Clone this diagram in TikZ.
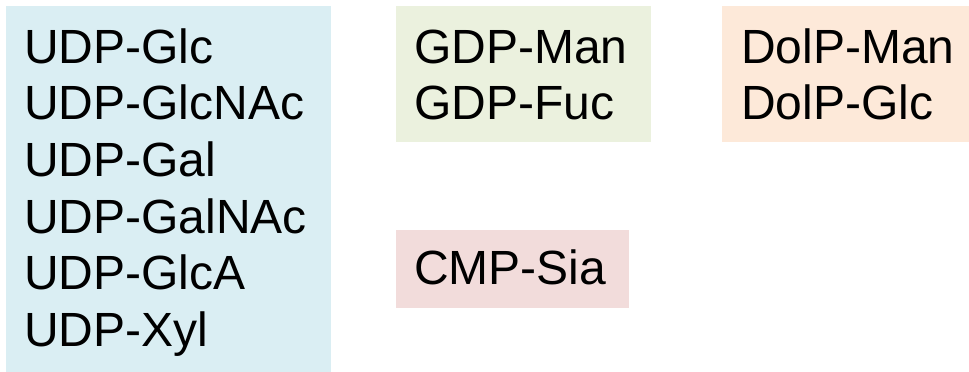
\documentclass[tikz,border=0pt]{standalone}
\usepackage{fontspec}
\setmainfont{Liberation Sans}
\definecolor{udpblue}{HTML}{DAEEF3}
\definecolor{gdpgreen}{HTML}{EBF1DE}
\definecolor{dolporange}{HTML}{FDE9D9}
\definecolor{cmppink}{HTML}{F2DCDB}
\tikzset{
  panel/.style={fill=#1, draw=none, inner sep=0pt, anchor=north west},
  sugar/.style={inner sep=0pt, anchor=base west, text=black,
                font=\fontsize{48}{56.7}\selectfont}
}
\begin{document}
\begin{tikzpicture}[x=1pt, y=-1pt]
  \useasboundingbox (0,0) rectangle (969,372);
  % coloured panels
  \node[panel=udpblue,    minimum width=325pt, minimum height=366pt] (udp)  at (6,6) {};
  \node[panel=gdpgreen,   minimum width=255pt, minimum height=135.7pt] (gdp)  at (396,6) {};
  \node[panel=dolporange, minimum width=247pt, minimum height=135.7pt] (dolp) at (722,6) {};
  \node[panel=cmppink,    minimum width=232.5pt, minimum height=77.3pt] (cmp)  at (396,230) {};
  % nucleotide sugars, one line each
  \foreach \name [count=\i] in {UDP-Glc,UDP-GlcNAc,UDP-Gal,UDP-GalNAc,UDP-GlcA,UDP-Xyl}
    \node[sugar] (udp\i) at (24,{63+56.7*(\i-1)}) {\name};
  \foreach \name [count=\i] in {GDP-Man,GDP-Fuc}
    \node[sugar] (gdp\i) at (414,{63+56.7*(\i-1)}) {\name};
  \foreach \name [count=\i] in {DolP-Man,DolP-Glc}
    \node[sugar] (dolp\i) at (741,{63+56.7*(\i-1)}) {\name};
  \node[sugar] (cmp1) at (414,284.5) {CMP-Sia};
\end{tikzpicture}
\end{document}
